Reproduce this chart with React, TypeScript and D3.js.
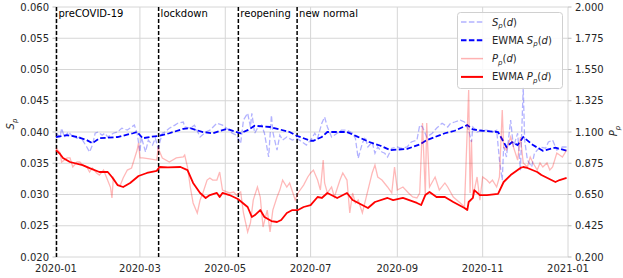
import React from 'react';
import * as d3 from 'd3';

// days counted from 2020-01-01
const sRawDay = [0, 3, 4, 6, 9, 11, 15, 17, 19, 22, 24, 26, 28, 30, 33, 35, 37, 41, 44, 47, 51, 54, 56, 58, 60, 61, 64, 66, 69, 71, 73, 76, 78, 81, 85, 87, 91, 92, 96, 99, 103, 107, 110, 115, 119, 122, 126, 129, 132, 134, 137, 139, 140, 142, 144, 147, 149, 152, 154, 155, 158, 160, 162, 165, 169, 172, 176, 179, 182, 185, 187, 190, 192, 194, 197, 201, 204, 208, 212, 214, 216, 219, 221, 223, 226, 228, 230, 233, 235, 237, 240, 244, 247, 251, 254, 258, 260, 262, 265, 269, 272, 276, 278, 280, 282, 285, 289, 292, 295, 297, 298, 301, 305, 308, 312, 315, 317, 319, 320, 322, 325, 327, 330, 332, 334, 335, 337, 340, 342, 346, 350, 352, 355, 358, 362, 365];
const sRaw = [0.0398, 0.0392, 0.0406, 0.0392, 0.04, 0.0395, 0.039, 0.0392, 0.0387, 0.0376, 0.0368, 0.0379, 0.0398, 0.04, 0.0395, 0.0398, 0.0392, 0.0398, 0.04, 0.0406, 0.0403, 0.0408, 0.0411, 0.0398, 0.0368, 0.0392, 0.0368, 0.0387, 0.0379, 0.039, 0.0374, 0.0398, 0.04, 0.0406, 0.0411, 0.0414, 0.0416, 0.0408, 0.0406, 0.0411, 0.0392, 0.04, 0.0403, 0.0414, 0.0411, 0.0406, 0.0398, 0.0395, 0.0382, 0.0419, 0.043, 0.0408, 0.043, 0.0398, 0.0406, 0.0411, 0.0398, 0.036, 0.0427, 0.04, 0.0371, 0.0395, 0.0387, 0.0392, 0.0387, 0.039, 0.0384, 0.0379, 0.0387, 0.0398, 0.039, 0.0414, 0.0424, 0.0408, 0.0392, 0.0398, 0.0403, 0.0403, 0.0398, 0.039, 0.0358, 0.0382, 0.0392, 0.0376, 0.0384, 0.0366, 0.0376, 0.0368, 0.0366, 0.036, 0.0374, 0.0376, 0.0374, 0.0376, 0.0384, 0.0387, 0.0411, 0.0408, 0.0392, 0.0398, 0.0406, 0.0414, 0.0411, 0.0408, 0.0414, 0.0416, 0.0419, 0.0416, 0.0403, 0.0384, 0.0408, 0.04, 0.0403, 0.0403, 0.04, 0.0403, 0.0355, 0.0323, 0.0376, 0.036, 0.0419, 0.0376, 0.0398, 0.0339, 0.0472, 0.0387, 0.0355, 0.0344, 0.0366, 0.0376, 0.0374, 0.0384, 0.0387, 0.0371, 0.0376, 0.0376];

const sEwmaDay = [0, 8, 15, 22, 26, 31, 44, 55, 58, 62, 67, 74, 81, 91, 96, 105, 112, 122, 132, 137, 142, 153, 160, 167, 172, 182, 184, 190, 194, 208, 215, 224, 232, 239, 251, 260, 265, 278, 285, 294, 298, 305, 316, 322, 326, 330, 334, 341, 348, 357, 365];
const sEwma = [0.0392, 0.0395, 0.0392, 0.0387, 0.0382, 0.039, 0.0392, 0.0398, 0.04, 0.039, 0.0392, 0.0394, 0.0398, 0.0405, 0.0406, 0.04, 0.0398, 0.0405, 0.0398, 0.0403, 0.041, 0.0408, 0.0404, 0.04, 0.0394, 0.0386, 0.0386, 0.0392, 0.04, 0.04, 0.0393, 0.0384, 0.0378, 0.0371, 0.0373, 0.038, 0.0387, 0.0398, 0.0402, 0.0411, 0.0404, 0.0402, 0.04, 0.0376, 0.0384, 0.0379, 0.0392, 0.0379, 0.037, 0.0375, 0.037];

const pRawDay = [0, 3, 4, 8, 10, 12, 15, 17, 19, 22, 24, 26, 29, 31, 34, 36, 39, 40, 41, 44, 46, 48, 51, 54, 58, 59, 60, 62, 67, 72, 73, 76, 81, 86, 91, 92, 94, 96, 98, 101, 103, 105, 108, 110, 112, 115, 117, 119, 124, 127, 129, 132, 134, 137, 139, 141, 144, 146, 148, 151, 153, 155, 158, 160, 162, 165, 167, 171, 173, 177, 180, 182, 184, 187, 189, 191, 192, 194, 197, 199, 203, 205, 208, 210, 212, 214, 216, 219, 223, 226, 228, 230, 233, 237, 240, 242, 244, 248, 252, 255, 258, 260, 262, 264, 265, 267, 271, 274, 278, 280, 284, 289, 292, 295, 296, 297, 298, 301, 303, 305, 308, 310, 312, 315, 317, 319, 320, 322, 325, 327, 330, 332, 334, 337, 339, 341, 344, 346, 348, 351, 353, 355, 358, 360, 362, 365];
const pRaw = [0.985, 0.95, 0.884, 0.913, 0.913, 0.848, 0.884, 0.884, 0.862, 0.848, 0.812, 0.841, 0.805, 0.79, 0.826, 0.776, 0.7, 0.625, 0.769, 0.718, 0.718, 0.769, 0.826, 0.841, 0.97, 1.021, 0.913, 0.913, 0.906, 0.898, 0.985, 0.913, 0.884, 0.913, 0.92, 0.934, 0.848, 0.704, 0.589, 0.517, 0.61, 0.661, 0.754, 0.769, 0.754, 0.754, 0.812, 0.682, 0.661, 0.668, 0.646, 0.668, 0.517, 0.38, 0.445, 0.61, 0.704, 0.632, 0.416, 0.538, 0.38, 0.538, 0.632, 0.682, 0.754, 0.704, 0.733, 0.61, 0.661, 0.718, 0.776, 0.805, 0.826, 0.754, 0.682, 0.898, 0.733, 0.661, 0.704, 0.632, 0.754, 0.805, 0.754, 0.517, 0.661, 0.589, 0.61, 0.517, 0.682, 0.805, 0.862, 0.776, 0.754, 0.704, 0.661, 0.848, 0.682, 0.704, 0.661, 0.632, 0.625, 0.661, 1.165, 0.646, 1.165, 0.704, 0.776, 0.682, 0.733, 0.704, 0.632, 0.589, 0.56, 1.402, 0.661, 1.042, 0.632, 0.776, 0.61, 0.776, 0.754, 0.733, 0.754, 0.704, 0.776, 1.258, 0.992, 0.97, 1.064, 0.992, 0.898, 1.064, 0.877, 0.848, 0.92, 0.877, 0.826, 0.877, 0.848, 0.877, 0.826, 0.848, 0.949, 0.934, 0.92, 0.97];

const pEwmaDay = [0, 3, 5, 10, 19, 24, 31, 37, 40, 44, 48, 53, 59, 65, 72, 74, 80, 89, 94, 98, 103, 107, 110, 115, 117, 119, 124, 130, 137, 140, 142, 146, 149, 154, 158, 161, 165, 169, 173, 177, 182, 187, 190, 194, 201, 208, 212, 223, 228, 237, 241, 248, 258, 261, 264, 267, 272, 278, 284, 292, 294, 295, 298, 299, 303, 308, 316, 320, 325, 332, 334, 337, 344, 347, 357, 360, 365];
const pEwma = [0.97, 0.94, 0.913, 0.884, 0.862, 0.84, 0.812, 0.812, 0.776, 0.718, 0.704, 0.733, 0.783, 0.805, 0.82, 0.848, 0.845, 0.848, 0.826, 0.733, 0.661, 0.625, 0.646, 0.661, 0.632, 0.661, 0.646, 0.618, 0.56, 0.488, 0.5, 0.538, 0.488, 0.459, 0.452, 0.466, 0.517, 0.538, 0.538, 0.56, 0.574, 0.632, 0.625, 0.661, 0.625, 0.661, 0.61, 0.553, 0.596, 0.625, 0.61, 0.625, 0.589, 0.574, 0.646, 0.668, 0.632, 0.632, 0.596, 0.553, 0.538, 0.596, 0.625, 0.682, 0.646, 0.646, 0.654, 0.74, 0.79, 0.841, 0.848, 0.841, 0.812, 0.79, 0.74, 0.754, 0.769];

const leftTicks = [0.02, 0.025, 0.03, 0.035, 0.04, 0.045, 0.05, 0.055, 0.06];
const rightTicks = [0.2, 0.425, 0.65, 0.875, 1.1, 1.325, 1.55, 1.775, 2.0];
const monthTicks = ['2020-01', '2020-03', '2020-05', '2020-07', '2020-09', '2020-11', '2021-01'];
const phaseNames = ['preCOVID-19', 'lockdown', 'reopening', 'new normal'];
const phaseDay = [0, 73, 130, 172];

const W = 623;
const H = 278;
const left = 56, right = 568, top = 7, bottom = 257;
const font = 'DejaVu Sans, sans-serif';

const toDate = (d: number) => new Date(2020, 0, 1 + d);

const x = d3.scaleTime().domain([new Date(2020, 0, 1), new Date(2021, 0, 1)]).range([left, right]);
const yL = d3.scaleLinear().domain([0.02, 0.06]).range([bottom, top]);
const yR = d3.scaleLinear().domain([0.2, 2.0]).range([bottom, top]);

const mkLine = (days: number[], vals: number[], y: d3.ScaleLinear<number, number>) =>
  d3.line<number>().x((_, i) => x(toDate(days[i]))).y((v) => y(v))(vals) || '';

const Sub = ({ main, sub, arg }: { main: string; sub: string; arg?: boolean }) => (
  <>
    <tspan fontStyle="italic">{main}</tspan>
    <tspan fontStyle="italic" fontSize={7} dy={2.5}>{sub}</tspan>
    {arg ? (
      <>
        <tspan dy={-2.5}>(</tspan>
        <tspan fontStyle="italic">d</tspan>
        <tspan>)</tspan>
      </>
    ) : null}
  </>
);

export default function App() {
  const fmtX = d3.timeFormat('%Y-%m');
  const parse = d3.timeParse('%Y-%m');
  const legend = [
    { color: 'rgba(0,0,255,0.3)', dash: '5.5,2.4', w: 1.5, label: 'S', ewma: false },
    { color: '#0000ff', dash: '5.5,2.4', w: 2, label: 'S', ewma: true },
    { color: 'rgba(255,0,0,0.3)', dash: undefined, w: 1.5, label: 'P', ewma: false },
    { color: '#ff0000', dash: undefined, w: 2, label: 'P', ewma: true },
  ];
  return (
    <svg width={W} height={H} style={{ position: 'absolute', left: 0, top: 0, background: '#fff' }} fontFamily={font}>
      {/* grid */}
      {leftTicks.map((t) => (
        <line key={'h' + t} x1={left} x2={right} y1={yL(t)} y2={yL(t)} stroke="#d6d6d6" strokeWidth={1} />
      ))}
      {monthTicks.map((m) => (
        <line key={'v' + m} x1={x(parse(m)!)} x2={x(parse(m)!)} y1={top} y2={bottom} stroke="#d6d6d6" strokeWidth={1} />
      ))}

      {/* axis ticks and labels */}
      {leftTicks.map((t) => (
        <g key={'lt' + t}>
          <line x1={left - 3.5} x2={left} y1={yL(t)} y2={yL(t)} stroke="#bbb" />
          <text x={left - 7} y={yL(t)} dy="0.35em" textAnchor="end" fontSize={10} fill="#262626">
            {d3.format('.3f')(t)}
          </text>
        </g>
      ))}
      {rightTicks.map((t) => (
        <g key={'rt' + t}>
          <line x1={right} x2={right + 3.5} y1={yR(t)} y2={yR(t)} stroke="#bbb" />
          <text x={right + 7} y={yR(t)} dy="0.35em" textAnchor="start" fontSize={10} fill="#262626">
            {d3.format('.3f')(t)}
          </text>
        </g>
      ))}
      {monthTicks.map((m) => (
        <text key={'mt' + m} x={x(parse(m)!)} y={272} textAnchor="middle" fontSize={10} fill="#262626">
          {fmtX(parse(m)!)}
        </text>
      ))}
      <text transform={`translate(14,124) rotate(-90)`} textAnchor="middle" fontSize={10} fill="#262626">
        <Sub main="S" sub="p" />
      </text>
      <text transform={`translate(617,131) rotate(-90)`} textAnchor="middle" fontSize={10} fill="#262626">
        <Sub main="P" sub="p" />
      </text>

      {/* phase markers */}
      {phaseDay.map((d, i) => (
        <g key={'ph' + i}>
          <line x1={x(toDate(d)) + 0.5} x2={x(toDate(d)) + 0.5} y1={top} y2={bottom} stroke="#000" strokeWidth={1.5} strokeDasharray="4,2" />
          <text x={x(toDate(d)) + 2.5} y={17} fontSize={10} fill="#000">{phaseNames[i]}</text>
        </g>
      ))}

      {/* series */}
      <path d={mkLine(sRawDay, sRaw, yL)} fill="none" stroke="rgba(0,0,255,0.3)" strokeWidth={1.3} strokeDasharray="5.5,2.4" />
      <path d={mkLine(sEwmaDay, sEwma, yL)} fill="none" stroke="#0000ff" strokeWidth={1.8} strokeDasharray="5.5,2.4" />
      <path d={mkLine(pRawDay, pRaw, yR)} fill="none" stroke="rgba(255,0,0,0.28)" strokeWidth={1.3} />
      <path d={mkLine(pEwmaDay, pEwma, yR)} fill="none" stroke="#ff0000" strokeWidth={1.8} strokeLinejoin="round" />

      {/* legend */}
      <rect x={457.5} y={12.5} width={105} height={76} rx={3} fill="rgba(255,255,255,0.85)" stroke="#d0d0d0" />
      {legend.map((l, i) => {
        const ly = 22 + i * 18.3;
        return (
          <g key={'lg' + i}>
            <line x1={461} x2={483} y1={ly} y2={ly} stroke={l.color} strokeWidth={l.w} strokeDasharray={l.dash} />
            <text x={492} y={ly} dy="0.35em" fontSize={10} fill="#262626">
              {l.ewma ? 'EWMA ' : ''}
              <Sub main={l.label} sub="p" arg />
            </text>
          </g>
        );
      })}
    </svg>
  );
}
